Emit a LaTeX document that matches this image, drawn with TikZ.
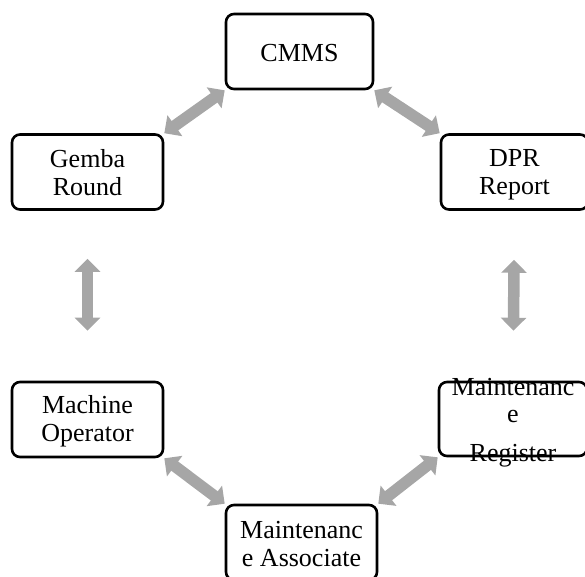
\documentclass[tikz,border=0pt]{standalone}
\usepackage{fontspec}
\setmainfont{Liberation Serif}
\usetikzlibrary{arrows.meta}
\definecolor{arrgray}{HTML}{A6A6A6}
\newcommand{\ls}{\rule[-3pt]{0pt}{25pt}}
\tikzset{
  box/.style={draw=black, line width=2.6pt, rounded corners=8pt, inner sep=0pt,
    minimum width=150pt, minimum height=75pt, align=center,
    font=\fontsize{26pt}{28pt}\selectfont},
  plain/.style={inner sep=0pt, anchor=base, font=\fontsize{26pt}{28pt}\selectfont},
  dbl/.style={draw=arrgray, line width=11.5pt,
    {Triangle[length=13pt,width=25pt]}-{Triangle[length=13pt,width=25pt]}}
}
\begin{document}
\begin{tikzpicture}[x=1pt,y=-1pt]
\useasboundingbox (0,0) rectangle (585,576);
\node[box, minimum width=147pt] (cmms) at (299.5,51.5) {\ls CMMS};
\node[box, minimum width=151pt] (gemba) at (87.5,172) {\ls Gemba\\\ls Round};
\node[box, minimum width=147pt] (dpr) at (514.5,172) {\ls DPR\\\ls Report};
\node[box, minimum width=151pt] (mo) at (87.5,419.5) {\ls Machine\\\ls Operator};
\node[box, minimum width=148pt, minimum height=74pt] (reg) at (513,419) {};
\node[box, minimum width=151pt] (ma) at (301.5,542.5) {\ls Maintenanc\\\ls e Associate};
\node[plain] (regA) at (513,395) {Maintenanc};
\node[plain] (regB) at (513,422) {e};
\node[plain] (regC) at (513,461) {Register};
\draw[dbl] (gemba.north east) -- (cmms.south west);
\draw[dbl] (cmms.south east) -- (dpr.north west);
\draw[dbl, shorten <=48pt, shorten >=50pt] (gemba.south) -- (mo.north);
\draw[dbl, shorten <=49pt, shorten >=50pt] (dpr.south) -- (reg.north);
\draw[dbl] (mo.south east) -- (ma.north west);
\draw[dbl] (ma.north east) -- (reg.south west);
\end{tikzpicture}
\end{document}
